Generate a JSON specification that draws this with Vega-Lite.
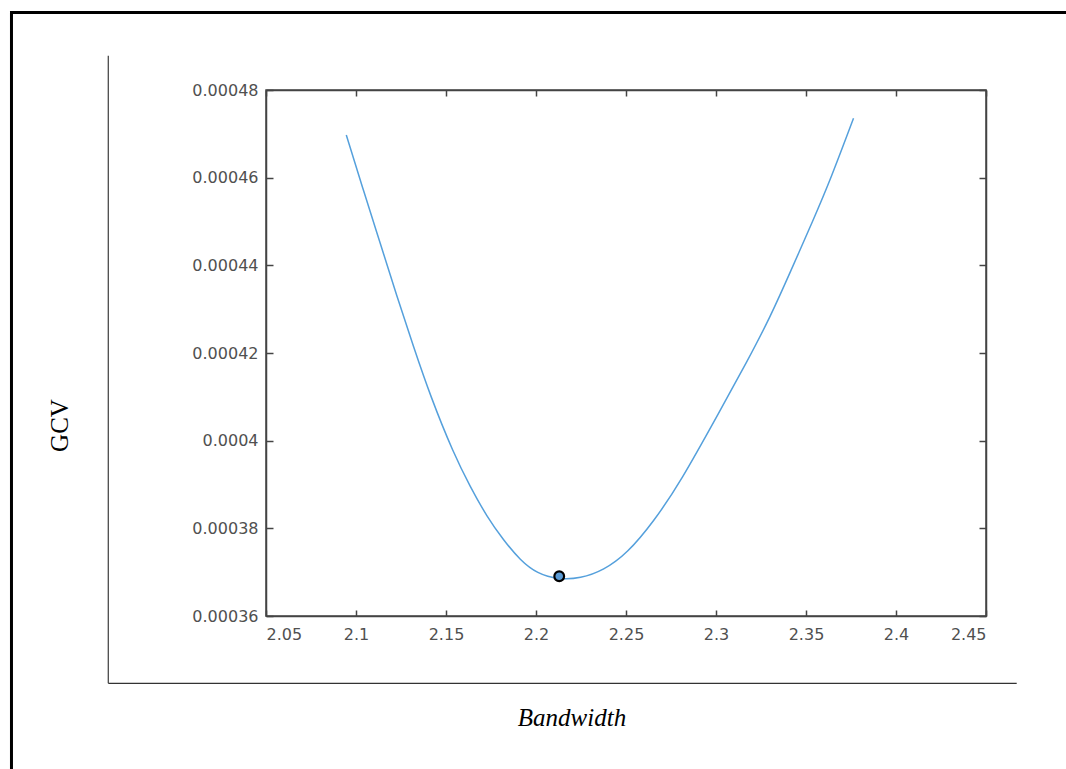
{
  "$schema": "https://vega.github.io/schema/vega-lite/v6.json",
  "width": 720,
  "height": 526,
  "autosize": {"type": "none"},
  "padding": {"left": 266, "top": 90, "right": 80, "bottom": 153},
  "background": "white",
  "config": {
    "view": {"stroke": "#444", "strokeWidth": 1.5},
    "axis": {
      "grid": false,
      "domainColor": "#444",
      "domainWidth": 1.5,
      "tickColor": "#444",
      "tickWidth": 1.5,
      "labelColor": "#505050",
      "labelFont": "DejaVu Sans",
      "labelFontSize": 16
    }
  },
  "datasets": {
    "gcv": [
      {"bandwidth": 2.0946, "gcv": 0.00046973},
      {"bandwidth": 2.1042, "gcv": 0.00045700},
      {"bandwidth": 2.1135, "gcv": 0.00044501},
      {"bandwidth": 2.1228, "gcv": 0.00043282},
      {"bandwidth": 2.1320, "gcv": 0.00042140},
      {"bandwidth": 2.1413, "gcv": 0.00041020},
      {"bandwidth": 2.1542, "gcv": 0.00039707},
      {"bandwidth": 2.1635, "gcv": 0.00038945},
      {"bandwidth": 2.1728, "gcv": 0.00038260},
      {"bandwidth": 2.1820, "gcv": 0.00037728},
      {"bandwidth": 2.1913, "gcv": 0.00037271},
      {"bandwidth": 2.2006, "gcv": 0.00036968},
      {"bandwidth": 2.2126, "gcv": 0.00036831},
      {"bandwidth": 2.2246, "gcv": 0.00036854},
      {"bandwidth": 2.2376, "gcv": 0.00037043},
      {"bandwidth": 2.2506, "gcv": 0.00037424},
      {"bandwidth": 2.2653, "gcv": 0.00038150},
      {"bandwidth": 2.2802, "gcv": 0.00039050},
      {"bandwidth": 2.3024, "gcv": 0.00040695},
      {"bandwidth": 2.3172, "gcv": 0.00041800},
      {"bandwidth": 2.3302, "gcv": 0.00042825},
      {"bandwidth": 2.3413, "gcv": 0.00043850},
      {"bandwidth": 2.3542, "gcv": 0.00045050},
      {"bandwidth": 2.3635, "gcv": 0.00045946},
      {"bandwidth": 2.3764, "gcv": 0.00047354}
    ],
    "opt": [{"bandwidth": 2.2129, "gcv": 0.00036906}],
    "frame": [{}]
  },
  "layer": [
    {
      "data": {"name": "frame"},
      "mark": {"type": "rect", "filled": false, "stroke": "black", "strokeWidth": 3},
      "encoding": {
        "x": {"datum": 1.9086, "type": "quantitative", "scale": {"domain": [2.05, 2.45], "nice": false, "zero": false}, "axis": null},
        "x2": {"datum": 2.7},
        "y": {"datum": 0.00049768, "type": "quantitative", "scale": {"domain": [0.00036, 0.00048], "nice": false, "zero": false}, "axis": null},
        "y2": {"datum": 0.0002}
      }
    },
    {
      "data": {"name": "frame"},
      "mark": {"type": "rule", "stroke": "#4a4a4a", "strokeWidth": 1.3},
      "encoding": {
        "x": {"datum": 1.96239, "type": "quantitative", "scale": {"domain": [2.05, 2.45], "nice": false, "zero": false}, "axis": null},
        "y": {"datum": 0.00048783, "type": "quantitative", "scale": {"domain": [0.00036, 0.00048], "nice": false, "zero": false}, "axis": null},
        "y2": {"datum": 0.00034465}
      }
    },
    {
      "data": {"name": "frame"},
      "mark": {"type": "rule", "stroke": "#333", "strokeWidth": 1.3},
      "encoding": {
        "x": {"datum": 1.96239, "type": "quantitative", "scale": {"domain": [2.05, 2.45], "nice": false, "zero": false}, "axis": null},
        "x2": {"datum": 2.46706},
        "y": {"datum": 0.00034465, "type": "quantitative", "scale": {"domain": [0.00036, 0.00048], "nice": false, "zero": false}, "axis": null}
      }
    },
    {
      "data": {"name": "gcv"},
      "mark": {"type": "line", "stroke": "#55a0dc", "strokeWidth": 1.5, "interpolate": "basis"},
      "encoding": {
        "x": {
          "field": "bandwidth", "type": "quantitative",
          "scale": {"domain": [2.05, 2.45], "nice": false, "zero": false},
          "axis": {
            "orient": "bottom",
            "values": [2.05, 2.1, 2.15, 2.2, 2.25, 2.3, 2.35, 2.4, 2.45],
            "format": "~g",
            "tickSize": -6,
            "labelPadding": 16,
            "title": "Bandwidth",
            "titleFont": "Liberation Serif",
            "titleFontStyle": "italic",
            "titleFontWeight": "normal",
            "titleFontSize": 25,
            "titleColor": "black",
            "titleX": 305.5,
            "titleY": 109,
            "titleAlign": "center",
            "titleBaseline": "alphabetic",
            "titleAngle": 0
          }
        },
        "y": {
          "field": "gcv", "type": "quantitative",
          "scale": {"domain": [0.00036, 0.00048], "nice": false, "zero": false},
          "axis": {
            "orient": "left",
            "values": [0.00036, 0.00038, 0.0004, 0.00042, 0.00044, 0.00046, 0.00048],
            "format": "~g",
            "tickSize": -7,
            "labelPadding": 15,
            "title": "GCV",
            "titleFont": "Liberation Serif",
            "titleFontWeight": "normal",
            "titleFontSize": 25,
            "titleColor": "black",
            "titleX": -198.7,
            "titleY": 335,
            "titleAngle": 270,
            "titleAlign": "center",
            "titleBaseline": "alphabetic"
          }
        }
      }
    },
    {
      "data": {"name": "opt"},
      "mark": {"type": "point", "filled": true, "fill": "#5b9bd5", "stroke": "black", "strokeWidth": 2.2, "size": 95, "opacity": 1},
      "encoding": {
        "x": {
          "field": "bandwidth", "type": "quantitative",
          "scale": {"domain": [2.05, 2.45], "nice": false, "zero": false},
          "axis": {"orient": "top", "values": [2.05, 2.1, 2.15, 2.2, 2.25, 2.3, 2.35, 2.4, 2.45], "tickSize": -6, "labels": false, "title": null}
        },
        "y": {
          "field": "gcv", "type": "quantitative",
          "scale": {"domain": [0.00036, 0.00048], "nice": false, "zero": false},
          "axis": {"orient": "right", "values": [0.00036, 0.00038, 0.0004, 0.00042, 0.00044, 0.00046, 0.00048], "tickSize": -7, "labels": false, "title": null}
        }
      }
    }
  ],
  "resolve": {"axis": {"x": "independent", "y": "independent"}}
}
